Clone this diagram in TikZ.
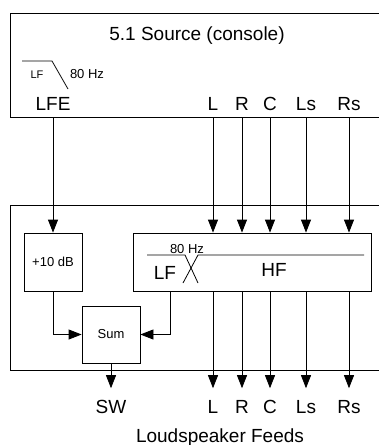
\documentclass[tikz,border=0pt]{standalone}
\usepackage{fontspec}
\setmainfont{Liberation Sans}
\usetikzlibrary{arrows.meta}

\begin{document}
\begin{tikzpicture}[x=1pt,y=-1pt,line width=0.8pt,>={Triangle[length=13pt,width=10pt]},
  big/.style={font=\fontsize{19}{22}\selectfont},
  small/.style={font=\fontsize{13}{15}\selectfont},
  unit/.style={draw,minimum width=58pt,minimum height=58pt,small},
  chan/.style={big,inner sep=0pt,text height=13.6pt,text depth=0pt},
  feed/.style={chan,outer ysep=11.5pt}]
\useasboundingbox (0,0) rectangle (379,445);
\clip (0,0) rectangle (379,445);
% source (console), runs off the right edge
\node[draw,minimum width=382pt,minimum height=104pt] (src) at (201,65) {};
\node[big,anchor=base] (title) at (197,40) {5.1 Source (console)};
% LF filter sign on the LFE output
\draw (22,61) -- (52,61) -- (68,89);
\node[font=\fontsize{11}{13}\selectfont,anchor=base] (lfsign) at (37,78) {LF};
\node[small,anchor=base] (fsign) at (87,78) {80 Hz};
% console outputs
\node[chan] (tLFE) at (53,103.5) {LFE};
\foreach \ch/\x in {L/213,R/242,C/270,Ls/306,Rs/349}
  \node[chan] (t\ch) at (\x,103.5) {\ch};
% decoder, also off the right edge
\node[draw,minimum width=382pt,minimum height=165pt] (dec) at (201,287.5) {};
\node[unit] (gain) at (53,262) {+10 dB};
\node[unit,minimum height=57pt] (sum) at (111,334.5) {Sum};
\node[draw,minimum width=238pt,minimum height=58pt] (xo) at (252,262) {};
% crossover sign inside
\draw (147,255) -- (185,255) -- (198,283);
\draw (364,255) -- (198,255) -- (183,283);
\node[small,anchor=base] (xfreq) at (187,253) {80 Hz};
\node[big,anchor=base] (lf) at (165,279) {LF};
\node[big,anchor=base] (hf) at (274,276) {HF};
\coordinate (lfout) at (170,291);
% loudspeaker feeds
\node[feed] (oSW) at (111,406.5) {SW};
\foreach \ch/\x in {L/213,R/242,C/270,Ls/306,Rs/349}
  \node[feed] (o\ch) at (\x,406.5) {\ch};
\node[big,anchor=base] (feeds) at (220,442) {Loudspeaker Feeds};
% connections
\draw[->] (tLFE |- src.south) -- (gain);
\foreach \ch in {L,R,C,Ls,Rs} {
  \draw[->] (t\ch |- src.south) -- (t\ch |- xo.north);
  \draw[->] (t\ch |- xo.south) -- (o\ch.north);
}
\draw[->] (gain) |- (sum);
\draw[->] (lfout) |- (sum);
\draw[->] (sum) -- (oSW.north);
\end{tikzpicture}
\end{document}
